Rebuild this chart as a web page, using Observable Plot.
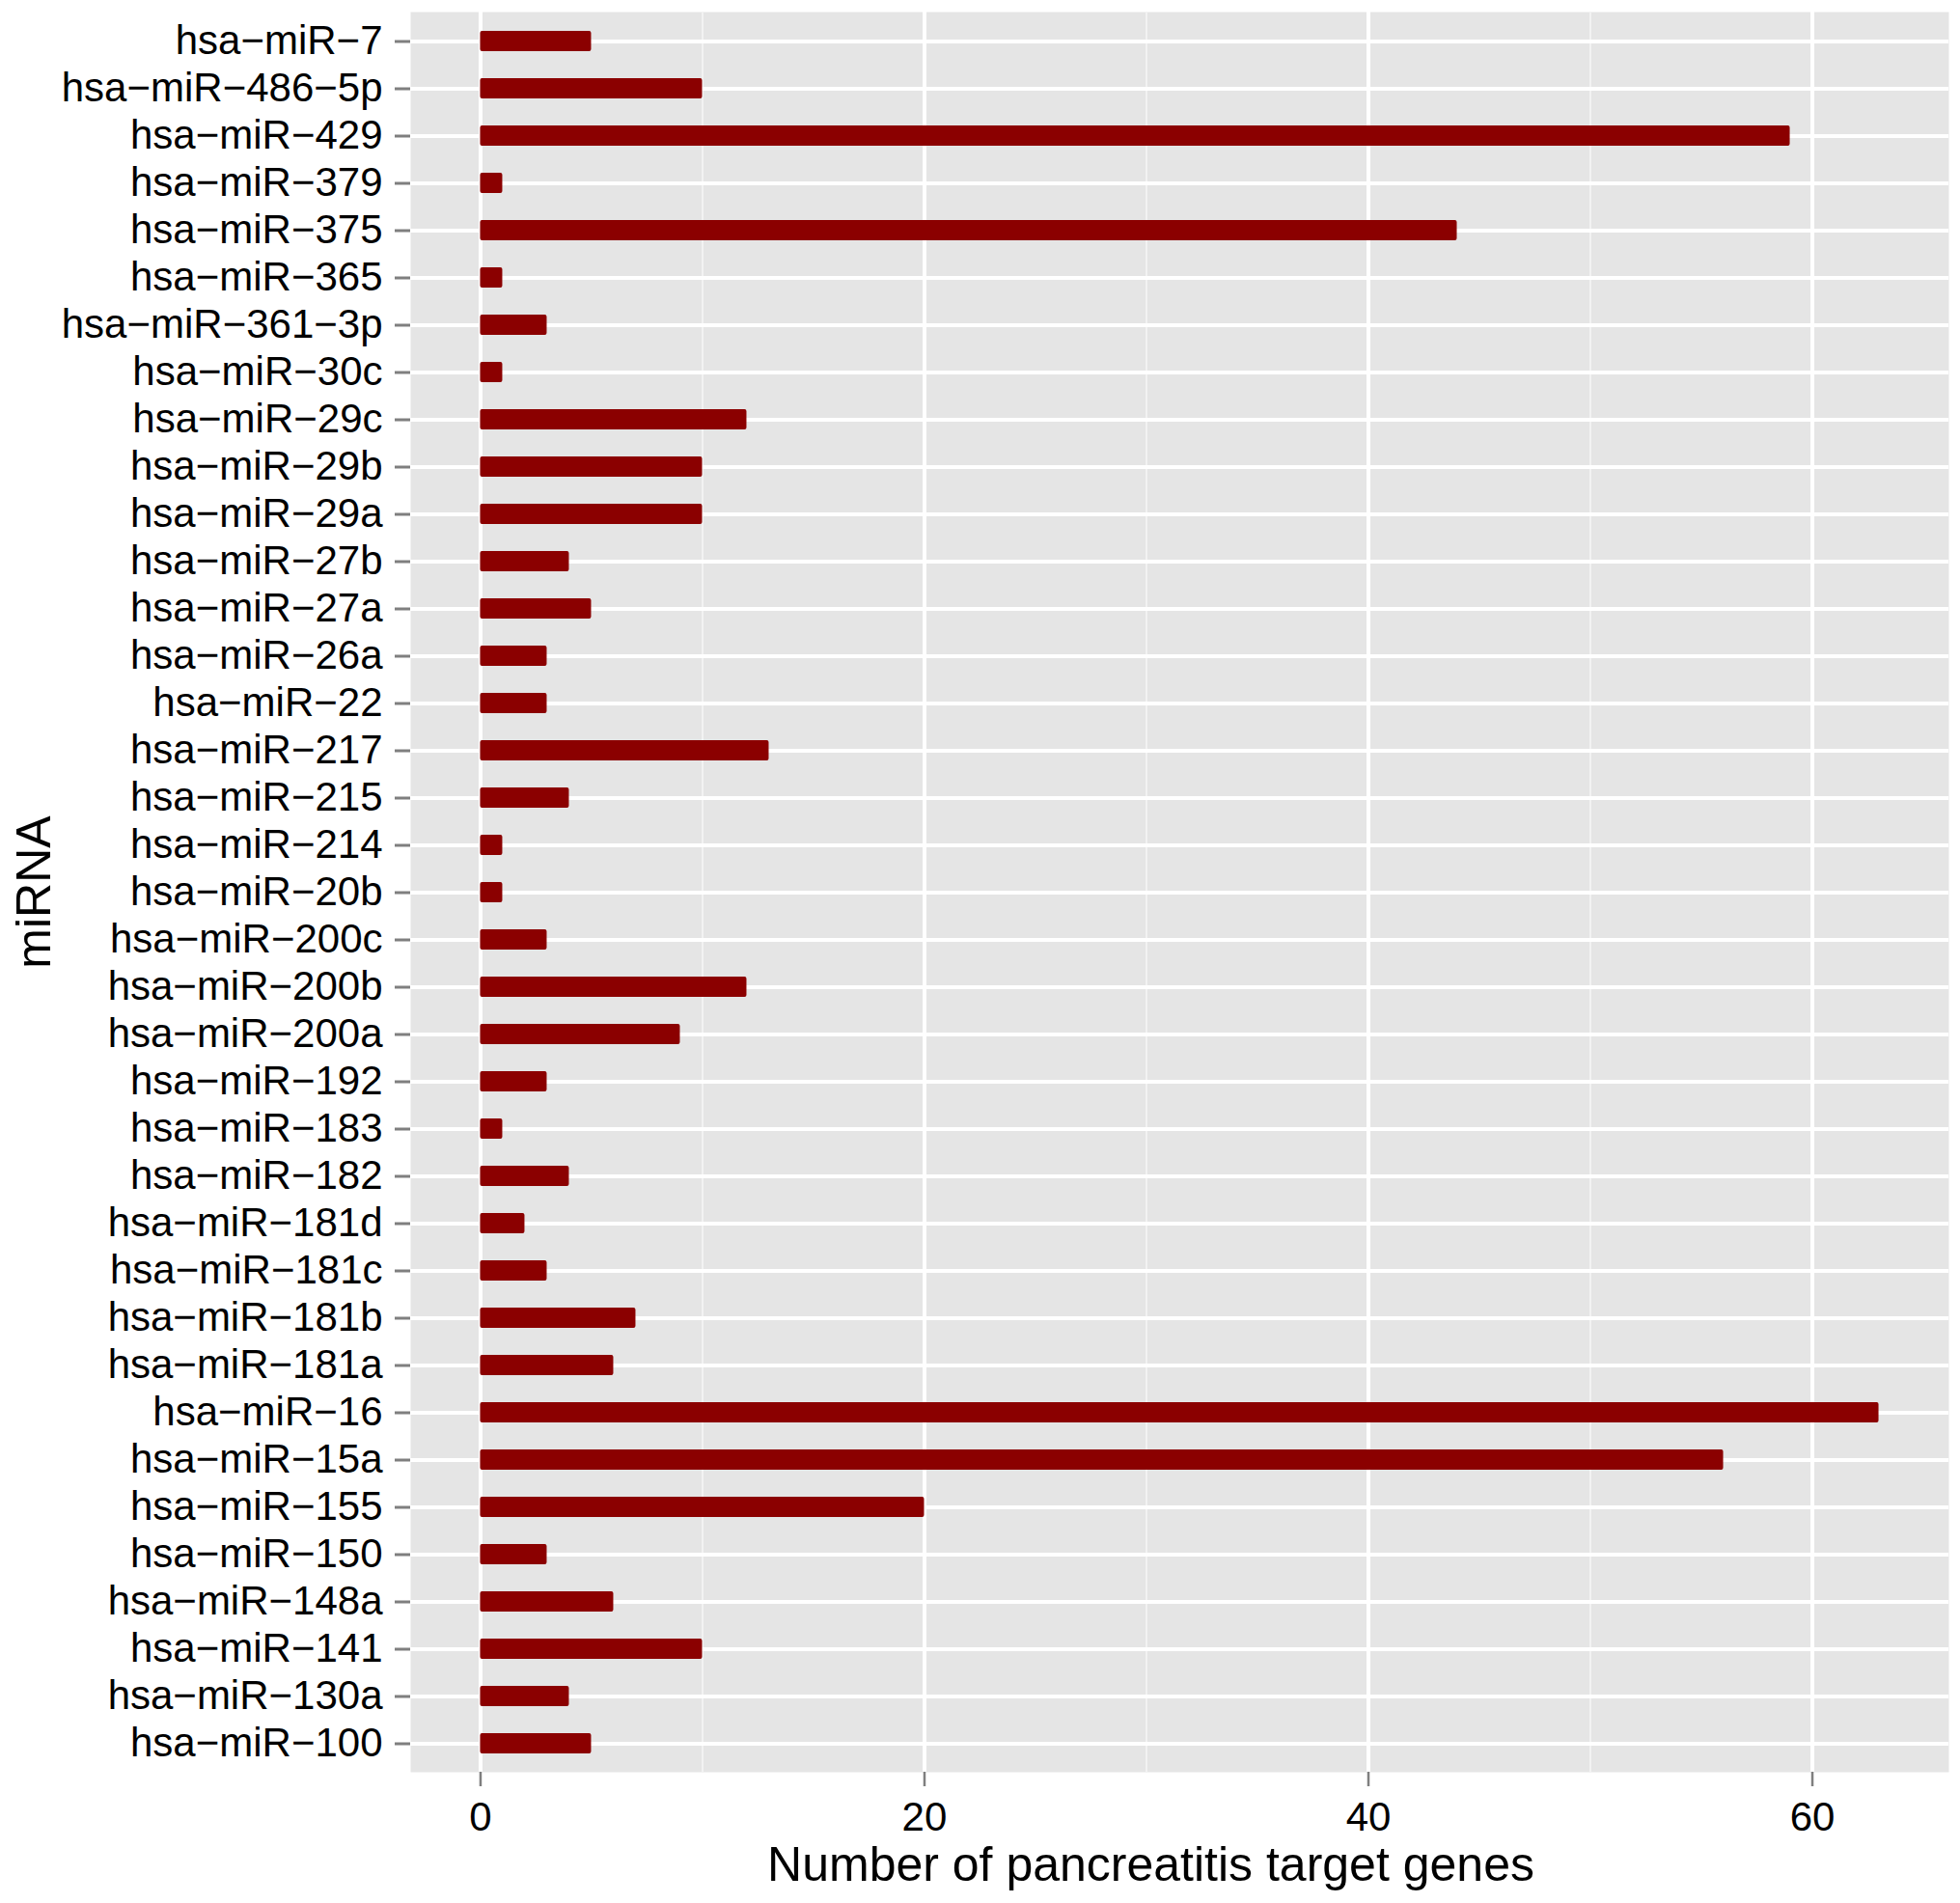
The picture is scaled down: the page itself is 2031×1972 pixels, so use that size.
<!DOCTYPE html>
<html>
<head>
<meta charset="utf-8">
<script src="https://cdn.jsdelivr.net/npm/d3@7"></script>
<script src="https://cdn.jsdelivr.net/npm/@observablehq/plot@0.6"></script>
<style>
  html, body { margin: 0; padding: 0; background: #ffffff; }
  svg { display: block; }
</style>
</head>
<body>
<div id="chart"></div>
<script>
// Categories listed top to bottom as they appear in the chart
const categories = [
  "hsa-miR-7", "hsa-miR-486-5p", "hsa-miR-429", "hsa-miR-379", "hsa-miR-375",
  "hsa-miR-365", "hsa-miR-361-3p", "hsa-miR-30c", "hsa-miR-29c", "hsa-miR-29b",
  "hsa-miR-29a", "hsa-miR-27b", "hsa-miR-27a", "hsa-miR-26a", "hsa-miR-22",
  "hsa-miR-217", "hsa-miR-215", "hsa-miR-214", "hsa-miR-20b", "hsa-miR-200c",
  "hsa-miR-200b", "hsa-miR-200a", "hsa-miR-192", "hsa-miR-183", "hsa-miR-182",
  "hsa-miR-181d", "hsa-miR-181c", "hsa-miR-181b", "hsa-miR-181a", "hsa-miR-16",
  "hsa-miR-15a", "hsa-miR-155", "hsa-miR-150", "hsa-miR-148a", "hsa-miR-141",
  "hsa-miR-130a", "hsa-miR-100"
];
const values = [
  5, 10, 59, 1, 44,
  1, 3, 1, 12, 10,
  10, 4, 5, 3, 3,
  13, 4, 1, 1, 3,
  12, 9, 3, 1, 4,
  2, 3, 7, 6, 63,
  56, 20, 3, 6, 10,
  4, 5
];
const xTicks = [0, 20, 40, 60];
const xMinorTicks = [10, 30, 50];
const xDomain = [-3.15, 66.15];
const xTitle = "Number of pancreatitis target genes";
const yTitle = "miRNA";

const data = categories.map((c, i) => ({mirna: c, count: values[i]}));
const minus = s => s.replace(/-/g, "\u2212");

const chart = Plot.plot({
  width: 2031,
  height: 1972,
  marginLeft: 425,
  marginRight: 12,
  marginTop: 12,
  marginBottom: 136,
  style: {fontFamily: "'Liberation Sans', Arial, Helvetica, sans-serif", background: "#ffffff", color: "#000000"},
  x: {domain: xDomain},
  y: {type: "band", domain: categories, paddingInner: 0.58, paddingOuter: 0.39},
  marks: [
    Plot.frame({fill: "#E5E5E5", stroke: null}),
    Plot.ruleX(xMinorTicks, {stroke: "#F2F2F2", strokeWidth: 2}),
    Plot.ruleX(xTicks, {stroke: "#FFFFFF", strokeWidth: 4}),
    Plot.gridY({stroke: "#FFFFFF", strokeOpacity: 1, strokeWidth: 4}),
    Plot.barX(data, {x: "count", y: "mirna", fill: "#8B0000", rx: 2}),
    Plot.axisX({ticks: xTicks, tickSize: 15, tickPadding: 16, fontSize: 42,
      color: "#000000", stroke: "#7F7F7F", strokeWidth: 2.5, label: null}),
    Plot.axisY({tickSize: 16, tickPadding: 13, fontSize: 42, tickFormat: minus,
      color: "#000000", stroke: "#7F7F7F", strokeWidth: 3, label: null}),
    Plot.text([xTitle], {text: d => d, frameAnchor: "bottom", textAnchor: "middle", lineAnchor: "middle",
      dx: -30, dy: 96, fontSize: 50, fill: "#000000"}),
    Plot.text([yTitle], {text: d => d, frameAnchor: "left", textAnchor: "middle", lineAnchor: "middle",
      dx: -390, rotate: -90, fontSize: 50, fill: "#000000"})
  ]
});
document.getElementById("chart").appendChild(chart);
</script>
</body>
</html>
